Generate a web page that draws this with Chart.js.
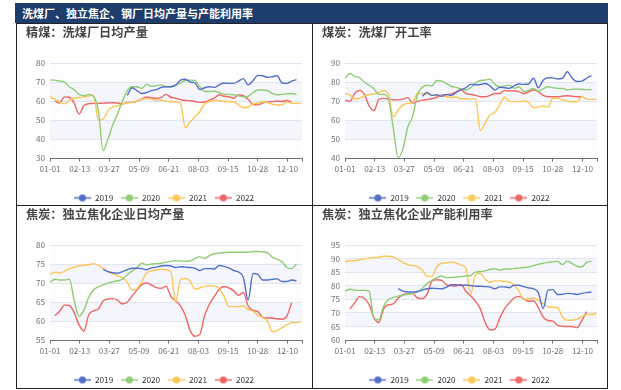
<!DOCTYPE html>
<html>
<head>
<meta charset="utf-8">
<script src="https://cdn.jsdelivr.net/npm/chart.js@4.4.1/dist/chart.umd.min.js"></script>
<style>
  html, body { margin: 0; padding: 0; background: #fff; }
  body { width: 621px; height: 390px; position: relative; overflow: hidden; font-family: "Noto Sans CJK SC", sans-serif; }
  .bar { position: absolute; left: 15px; top: 3px; width: 593px; height: 20px; background: #1f3d6c; color: #fff;
         font-weight: 700; font-size: 11px; line-height: 20px; padding-left: 7px; box-sizing: border-box; }
  .frame { position: absolute; left: 16px; top: 23px; width: 592px; height: 366px; border: 1px solid #222; box-sizing: border-box; }
  .vline { position: absolute; left: 312px; top: 23px; width: 1px; height: 366px; background: #222; }
  .hline { position: absolute; left: 16px; top: 205px; width: 592px; height: 1px; background: #222; }
  canvas { position: absolute; }
</style>
</head>
<body>
<div class="bar">洗煤厂、独立焦企、钢厂日均产量与产能利用率</div>
<div class="frame"></div>
<div class="vline"></div>
<div class="hline"></div>
<canvas id="c1" width="295" height="188" style="left:17px;top:24px"></canvas>
<canvas id="c2" width="294" height="188" style="left:313px;top:24px"></canvas>
<canvas id="c3" width="295" height="188" style="left:17px;top:206px"></canvas>
<canvas id="c4" width="294" height="188" style="left:313px;top:206px"></canvas>
<script>
// 周度数据，x 为一年中的第几天
const days = [0,7,14,21,28,35,42,49,56,63,70,77,84,91,98,105,112,119,126,133,140,147,154,161,168,175,
  182,189,196,203,210,217,224,231,238,245,252,259,266,273,280,287,294,301,308,315,322,329,336,343,350,357,364];
const tickDays = [0,43,86,129,172,215,258,301,344];
const tickLabels = ['01-01','02-13','03-27','05-09','06-21','08-03','09-15','10-28','12-10'];
const years = ['2019','2020','2021','2022'];
const colors = ['#5470c6','#91cc75','#fac858','#ee6666'];

// 精煤：洗煤厂日均产量
const wash19 = [null,null,null,null,null,null,null,null,null,null,null,null,null,null,null,null,63,67,65.5,64,64.5,65.5,66,67.2,67.5,67.5,
  68.5,71,71.5,70,69.5,66,67,67.5,67.2,68.5,69.5,69.3,69.3,70.5,71.8,68.5,70.8,73.5,73.3,72.5,72.8,73.3,69.5,69.3,70.5,71.3,null];
const wash20 = [71,71,70.5,70,67.5,66,63.5,62.8,63.5,62.5,55,34,40,47.5,53.5,60,65.5,67.5,67.5,66.7,68.8,67.8,68,68.5,67.5,67.5,
  68.3,69.5,70.8,71,70.8,67.5,65,65,65.2,64.5,63.5,63.5,63.3,62.8,62.3,62.5,64.5,65.8,65.8,65.5,64,63.3,63.5,63.8,64,63.5,null];
const wash21 = [62.3,61,59.5,58.5,60.5,61.5,61.8,62.2,62.7,63,50,50.5,55,57,57.5,58.6,59,59.3,60,61,61.3,61,60.5,60.5,60,59.6,
  59.6,58.8,46,49,51.7,54.5,58.5,59.8,60.3,60.3,59.8,59.6,59.6,58,56.5,57,58.5,59,59.6,59.2,58.3,57.9,57.9,59.5,58.8,58.8,58.8];
const wash22 = [null,60,59,62.2,62,59,53.2,57.5,58.6,58.8,58.8,58.9,59,59.1,59,58.4,59.3,59.3,60,61,62.2,61.8,61.4,61.8,63.5,62,
  61.5,60.8,60.3,60.2,59.8,59.3,59.5,60.5,61.5,63.3,62.5,62.3,61.5,63.2,62.8,61,58.2,58,59,59.6,59.7,60,59.8,60.3,59.6,null,null];

// 煤炭：洗煤厂开工率
const rate19 = [null,null,null,null,null,null,null,null,null,null,null,null,null,null,null,null,72.5,74.5,73,73.3,72.5,73.5,73,74.5,76,77,
  78.8,78.6,78.7,79.2,78,75.8,77.2,77,76.7,78,79,78.8,79,82,77,81,82.3,82.2,81.6,82,85.4,82,80.3,80.5,82,83.4,null];
const rate20 = [82,84.5,83,82.3,80,78.3,76.5,73.5,73.5,71,55.6,40.3,45,56.5,62,73.5,77.3,78.3,78,80.8,80.5,79.2,77.8,77.2,76.3,75.8,
  77,79.5,80.8,81,81.5,78.8,77.5,78,78.4,76.7,77.5,75,75.6,76.7,75.2,76.5,77.5,77,76.7,76.7,75.8,76.2,76.3,76.2,76,76,null];
const rate21 = [74,73.2,71.2,71.5,72.8,73.3,73.8,74.5,75.6,73.5,61.7,65.3,68,68.8,69.4,74,74,73.6,73.2,73.2,72.7,72.3,71.9,72.1,71.2,71.2,
  71,71.3,54.5,58.5,62.6,64,68,72,70,69.7,69.7,70,69.3,66.5,66.8,67.4,66.8,71.5,71.5,70.6,70,69.6,69.6,72.3,71,70.9,70.9];
const rate22 = [70.5,69.8,74,75.6,73.5,67.5,65,70.8,71.4,71,70.7,70.6,71,71.8,69,69.8,70.5,70.8,71.2,72,73.2,73.3,73.8,74.8,76,74,
  73.5,73,72.3,72.3,73,74,74,75.5,75.4,75.3,75,73.8,74.8,75.8,75,73,72.3,72.3,72.3,72.6,72.8,72.5,72.3,72.3,null,null,null];

// 焦炭：独立焦化企业日均产量
const coke19 = [null,null,null,null,null,null,null,null,null,null,null,73.6,73,72.7,72.6,73,73.5,73.9,73.9,73.8,73.5,74,74.2,74.5,74.6,74.5,
  74.1,74.3,74.2,74.1,73.9,73.3,73.8,73.8,73.7,74.6,74.4,74,73.3,72.9,71.5,65.5,72.5,72.3,70.8,70.8,71,71.1,70.4,70.4,70.8,70.6,null];
const coke20 = [70.2,71,70.8,70.8,71,65.5,61.3,62.8,66.2,68.2,69,69.5,70,70.3,70.6,71,72.2,73.2,74.1,75.2,74.8,75,75.1,75.2,75.5,75.7,
  75.9,75.8,75.7,75.8,76.5,76.9,76.5,77.2,77.7,77.9,78,78.1,78.1,78.1,78.1,78.1,78.3,78.3,78.2,78,76.8,76.3,75.6,74.1,73.8,75,null];
const coke21 = [72.3,72.8,72.7,73.1,73.8,74.2,74.5,74.7,74.8,75.1,74.7,73.9,73,72.4,71.9,71.4,70.2,68.1,68.5,70.5,72.7,73.2,73.5,73.6,73.5,73,
  65,71,71.2,70.5,68.4,68.7,69.2,69.3,69.2,68.6,66.5,63.8,63.8,63.8,64,63,62.6,61.5,61,60,57.2,57.5,58.3,59,59.6,59.6,59.8];
const coke22 = [null,61.4,62.6,64.2,64.1,62.2,59,57.4,61.6,62.7,63.2,65.3,65.8,65.9,65.5,64.5,65,66.6,68.2,69.6,70,69.5,68.8,68.6,69.2,66.5,
  65.3,64,61.5,57.5,56,56.5,61.5,64.5,66.5,68.3,69.1,68.7,68,66.8,67.5,64,62.8,62.5,61,60.8,60.8,60.6,60.5,61.3,64.8,null,null];

// 焦炭：独立焦化企业产能利用率
const util19 = [null,null,null,null,null,null,null,null,null,null,null,79,78,77.7,77.7,77.9,78.4,78.9,79.1,79,78.9,79.5,80.4,80.4,80.1,80.3,
  80.1,79.8,79.8,79.7,79.5,78.9,79.6,79.6,79.3,80.2,80.2,79.7,79.2,78.9,77.5,71.6,78.4,78.6,76.8,76.9,77.2,77.1,76.8,77.2,77.5,77.7,null];
const util20 = [78,78.7,78.4,78.3,78.3,78,67.8,67.5,72.5,75,75.7,76.2,76.6,76.9,77.2,77.8,79,80.8,82,83,83.6,83,83.1,83.2,83.4,83.6,
  83.8,85,85.2,85.5,86,86.3,85.8,86.2,86.2,86.3,86.6,86.7,86.9,87.4,87.9,88.3,88.6,88.8,89,87.8,89.1,88.2,87.2,87,88.6,89.1,null];
const util21 = [88.8,89.2,89.3,89.5,89.9,90.2,90.4,90.5,90.9,90.9,90.6,89.6,88.6,87.8,87.4,87.1,85.7,83.5,83.4,87,88.3,88.4,88.8,88.4,87.6,86.5,
  77,84,84.5,82.5,81.2,81.8,81.8,81.6,81.4,80.3,78,75,75.2,75.5,74.6,73.5,72.3,72.1,71.9,68.5,67.3,67.3,67.7,68.6,69.4,69.4,69.9];
const util22 = [null,71.4,73.7,76,75.3,73,68.2,66.5,71.5,73,73.3,75.5,76.7,77,77.2,75.5,75.3,77,81.7,82.2,82,80.4,80,79.9,80.5,78,
  76.3,74.3,71.5,66.5,63.8,64,68,71.5,73.7,75.5,76.1,75.2,74.3,74.5,72,68.5,67.2,67,65.4,65.1,65,65,64.6,67.2,70.5,null,null];

// 图例图标：线段 + 圆点
function legendIcon(color) {
  const c = document.createElement('canvas');
  c.width = 17; c.height = 9;
  const g = c.getContext('2d');
  g.strokeStyle = color; g.lineWidth = 1.5;
  g.beginPath(); g.moveTo(0, 4.5); g.lineTo(17, 4.5); g.stroke();
  g.fillStyle = color;
  g.beginPath(); g.arc(8.5, 4.5, 3.6, 0, Math.PI * 2); g.fill();
  return c;
}

// 交替背景色带
const bandPlugin = {
  id: 'bands',
  beforeDraw(chart) {
    const {ctx, chartArea: a, scales: {y}} = chart;
    const ticks = y.ticks;
    ctx.save();
    for (let i = 0; i < ticks.length - 1; i++) {
      const bottom = y.getPixelForValue(ticks[i].value);
      const top = y.getPixelForValue(ticks[i + 1].value);
      ctx.fillStyle = i % 2 ? 'rgba(210,219,238,0.25)' : 'rgba(250,250,250,0.3)';
      ctx.fillRect(a.left, top, a.right - a.left, bottom - top);
    }
    ctx.restore();
  }
};

function makeChart(id, title, series, yMin, yMax, step, axisW) {
  const fontFam = '"Noto Sans CJK SC", sans-serif';
  new Chart(document.getElementById(id), {
    type: 'line',
    data: {
      datasets: series.map((s, i) => ({
        label: years[i],
        data: days.map((d, k) => ({x: d, y: s[k]})),
        borderColor: colors[i],
        backgroundColor: colors[i],
        borderWidth: 1.4,
        pointRadius: 0,
        cubicInterpolationMode: 'monotone',
        spanGaps: false
      }))
    },
    options: {
      responsive: false,
      animation: false,
      layout: {padding: {left: 9, right: 10, top: 0, bottom: 0}},
      plugins: {
        title: {
          display: true, text: title, align: 'start', color: '#464646',
          font: {family: fontFam, size: 12.2, weight: 'bold'},
          padding: {top: 1, bottom: 23.4}
        },
        legend: {
          position: 'bottom',
          labels: {
            usePointStyle: true, pointStyleWidth: 17, padding: 7.7,
            color: '#333', font: {family: fontFam, size: 8.2},
            generateLabels: chart => chart.data.datasets.map((ds, i) => ({
              text: ds.label, pointStyle: legendIcon(colors[i]), fillStyle: colors[i],
              strokeStyle: colors[i], lineWidth: 0, fontColor: '#333', hidden: false, datasetIndex: i
            }))
          }
        },
        tooltip: {enabled: false}
      },
      scales: {
        x: {
          type: 'linear', min: 0, max: 365,
          afterBuildTicks: s => { s.ticks = tickDays.concat([365]).map(v => ({value: v})); },
          afterFit: s => { s.height = 28; },
          ticks: {
            autoSkip: false, maxRotation: 0, padding: 2, color: '#6E7079',
            font: {family: fontFam, size: 8.2},
            callback: (v, i) => tickLabels[i] || ''
          },
          grid: {drawOnChartArea: false, drawTicks: true, tickLength: 3.4, tickColor: '#6E7079'},
          border: {color: '#6E7079', width: 1}
        },
        y: {
          min: yMin, max: yMax,
          afterFit: s => { s.width = axisW; },
          ticks: {stepSize: step, padding: 5, color: '#6E7079', font: {family: fontFam, size: 8.2}},
          grid: {color: '#E0E6F1', drawTicks: false},
          border: {display: false}
        }
      }
    },
    plugins: [bandPlugin]
  });
}

makeChart('c1', '精煤：洗煤厂日均产量', [wash19, wash20, wash21, wash22], 30, 80, 10, 24);
makeChart('c2', '煤炭：洗煤厂开工率', [rate19, rate20, rate21, rate22], 40, 90, 10, 23);
makeChart('c3', '焦炭：独立焦化企业日均产量', [coke19, coke20, coke21, coke22], 55, 80, 5, 24);
makeChart('c4', '焦炭：独立焦化企业产能利用率', [util19, util20, util21, util22], 60, 95, 5, 23);
</script>
</body>
</html>
